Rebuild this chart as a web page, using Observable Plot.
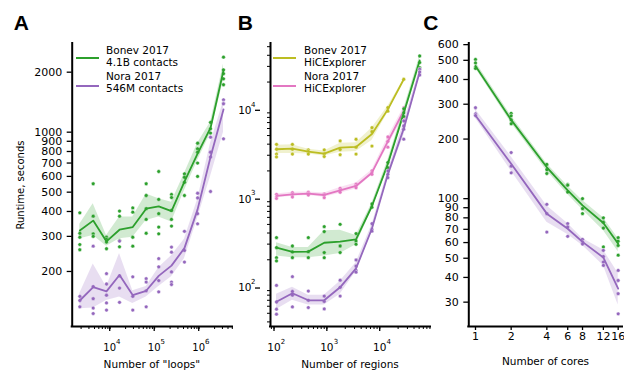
<!DOCTYPE html>
<html><head><meta charset="utf-8">
<script src="https://cdn.jsdelivr.net/npm/d3@7"></script>
<script src="https://cdn.jsdelivr.net/npm/@observablehq/plot@0.6"></script>
<style>
body{margin:0;background:#fff;}
#fig{position:relative;width:624px;height:370px;font-family:"DejaVu Sans",sans-serif;overflow:hidden;background:#fff;color:#000;}
.panel{position:absolute;top:0;}
.letter{position:absolute;font-family:"Liberation Sans",Arial,sans-serif;font-weight:bold;font-size:21px;line-height:21px;white-space:nowrap;}
.lab{position:absolute;font-size:10.5px;line-height:10.5px;white-space:nowrap;}
.leg{position:absolute;font-size:10.5px;line-height:11.7px;white-space:nowrap;}
.sw{position:absolute;height:2px;width:23px;}
</style></head><body><div id="fig"></div>
<script>
// ---------- Panel A: runtime vs number of "loops" ----------
const loops = [1870, 3740, 7450, 14600, 29000, 58000, 111000, 215000, 420000, 830000, 1620000, 3170000];
const aBonevMean = [321, 360, 283, 324, 334, 413, 424, 402, 565, 780, 1050, 2040];
const aBonevLo   = [292, 303, 268, 292, 297, 360, 375, 354, 510, 720, 985, 1820];
const aBonevHi   = [345, 437, 303, 375, 375, 490, 463, 445, 620, 880, 1120, 2200];
const aBonevPts  = [[394,311,297,273,257],[551,379,309,300],[297,290,281,260],[402,379,286,266],[417,397,297,268],[551,481,413,365,311],[635,460,390,334,309],[487,470,405,365,338],[618,594,560,481],[881,825,794,700,600],[1120,1040,990],[2380,2055,1965,1853,1730]];
const aNoraMean = [143, 167, 159, 192, 152, 160, 190, 214, 262, 410, 750, 1300];
const aNoraLo   = [130, 131, 143, 149, 138, 149, 168, 188, 232, 370, 600, 1000];
const aNoraHi   = [155, 218, 167, 246, 160, 168, 209, 240, 290, 460, 880, 1430];
const aNoraPts  = [[150,143,133],[268,168,146,131,123],[195,173,152,139,128],[284,190,165,140],[188,150,128],[184,177,160,133],[232,211,180,158],[265,250,199,177,172],[318,255,223],[494,468,390,347],[944,794,750,504],[1454,1400,1388,926]];
const aYTicks  = [200,300,400,500,600,700,800,900,1000,2000];
const aXMajor  = [1e4, 1e5, 1e6];
const aXMinor  = [2e3,3e3,4e3,5e3,6e3,7e3,8e3,9e3,2e4,3e4,4e4,5e4,6e4,7e4,8e4,9e4,2e5,3e5,4e5,5e5,6e5,7e5,8e5,9e5,2e6,3e6,4e6,5e6];
const aLegend  = [["Bonev 2017","4.1B contacts"],["Nora 2017","546M contacts"]];

// ---------- Panel B: runtime vs number of regions ----------
const regions = [100, 200, 400, 800, 1600, 3200, 6400, 12800, 25600, 51200];
const bBonevMean = [274, 245, 247, 311, 320, 340, 806, 2400, 9000, 35000];
const bBonevLo   = [221, 211, 211, 220, 235, 295, 740, 2150, 7900, 30000];
const bBonevHi   = [311, 275, 275, 425, 430, 375, 870, 2650, 10000, 39000];
const bBonevPts  = [[355,274,211,194],[286,245,211],[355,247,211],[472,415,241,211],[501,286,241],[394,325,299],[850,780],[2480,2170],[10000,9000,8200],[39300,33100,29000]];
const bNoraMean = [67.5, 84, 70, 70, 98, 160, 450, 1830, 6000, 26000];
const bNoraLo   = [55, 70, 62, 62, 82, 148, 410, 1650, 5000, 24000];
const bNoraHi   = [82, 98, 80, 80, 115, 185, 500, 2000, 7000, 28000];
const bNoraPts  = [[103,67,55.6,48.8],[129,88,80,59],[89,70,58],[78,68,56],[118,98,78],[199,170,152,145],[510,440,420],[2000,1830,1680],[7300,6400,5900,4550],[27900,26000,24000]];
const bBonevHicMean = [3508, 3560, 3300, 3130, 3655, 3720, 5200, 9850, 21500];
const bBonevHicLo   = [3150, 3150, 3100, 2950, 3250, 3300, 4400, 9000, 21500];
const bBonevHicHi   = [3900, 3950, 3500, 3350, 4100, 4150, 6100, 10700, 21500];
const bBonevHicPts  = [[3980,3510,3090,2870],[3980,3510,3090],[3450,3300,3090],[3450,3100,2900],[4350,3480,3040],[4540,3700,3090],[6130,5530,3810],[10300,9400],[21500]];
const bNoraHicMean = [1045, 1090, 1110, 1072, 1210, 1355, 1910, 4300, 9500];
const bNoraHicLo   = [990, 1040, 1060, 1010, 1120, 1250, 1800, 3800, 8300];
const bNoraHicHi   = [1100, 1150, 1160, 1130, 1300, 1460, 2050, 4800, 10400];
const bNoraHicPts  = [[1090,1020,980],[1138,1080,1018],[1150,1100,1070],[1100,1070,1000],[1270,1200,1150],[1420,1350,1290],[2000,1900,1830],[4830,4300,3700],[10300,9300,8000]];
const bMajor  = [1e2, 1e3, 1e4];
const bXMinor = [80,90,200,300,400,500,600,700,800,900,2e3,3e3,4e3,5e3,6e3,7e3,8e3,9e3,2e4,3e4,4e4,5e4,6e4,7e4,8e4];
const bYMinor = [40,50,60,70,80,90,200,300,400,500,600,700,800,900,2e3,3e3,4e3,5e3,6e3,7e3,8e3,9e3,2e4,3e4,4e4,5e4];
const bLegend = [["Bonev 2017","HiCExplorer"],["Nora 2017","HiCExplorer"]];

// ---------- Panel C: runtime vs number of cores ----------
const cores = [1, 2, 4, 6, 8, 12, 16];
const cBonevMean = [468, 250, 144, 110, 92.5, 75.3, 59.2];
const cBonevLo   = [456, 241, 138, 105, 88, 69, 54];
const cBonevHi   = [490, 262, 150, 116, 98, 80, 63];
const cBonevPts  = [[505,485,462,455],[270,262,250,239],[149,140,134],[118,117,108],[100,89,84],[80,76,71,57],[63.5,61,58,51.8]];
const cNoraMean = [263, 150, 84, 70.5, 60.5, 50.4, 35.1];
const cNoraLo   = [255, 138, 76, 66, 58, 46, 29];
const cNoraHi   = [282, 163, 92, 75, 63, 55, 42];
const cNoraPts  = [[288,268,263],[171,146,135],[93.6,84,67.8],[74.8,71.9,64.5],[62.3,60.4,59],[54.8,51,47.8,46],[43.4,38.6,33.1,26.2]];
const cYTicks = [30,40,50,60,70,80,90,100,200,300,400,500,600];
const cXTicks = [1,2,4,6,8,12,16];

const labels = {yA: "Runtime, seconds", xA: 'Number of "loops"', xB: "Number of regions", xC: "Number of cores"};

// ---------- drawing ----------
const GREEN = "#2ca02c", PURPLE = "#9467bd", OLIVE = "#bcbd22", PINK = "#e377c2";
const fig = document.getElementById("fig");
const blank = () => "";

function series(xs, mean, lo, hi, pts, color) {
  const rows = mean.map((m, i) => ({x: xs[i], m, lo: lo[i], hi: hi[i]}));
  const prow = pts.flatMap((vals, i) => vals.map(v => ({x: xs[i], y: v})));
  return [
    Plot.dot(prow, {x: "x", y: "y", r: 1.9, fill: color, stroke: "white", strokeWidth: 0.5}),
    Plot.areaY(rows, {x: "x", y1: "lo", y2: "hi", fill: color, fillOpacity: 0.22}),
    Plot.line(rows, {x: "x", y: "m", stroke: color, strokeWidth: 1.8})
  ];
}
const expo = d => String(Math.round(Math.log10(d)));

function mount(svg, left) {
  svg.classList.add("panel");
  svg.style.left = left + "px";
  fig.appendChild(svg);
}

// Panel A
const aX = [1262, 5.05e6], aY = [105.9, 2786];
mount(Plot.plot({
  width: 240, height: 370, marginLeft: 71.7, marginRight: 8, marginTop: 43, marginBottom: 44,
  style: {fontFamily: "DejaVu Sans", overflow: "visible", background: "transparent"},
  x: {type: "log", domain: aX}, y: {type: "log", domain: aY},
  marks: [
    ...series(loops, aBonevMean, aBonevLo, aBonevHi, aBonevPts, GREEN),
    ...series(loops, aNoraMean, aNoraLo, aNoraHi, aNoraPts, PURPLE),
    Plot.axisY({ticks: aYTicks, tickFormat: blank, tickSize: 5, strokeWidth: 1.3, label: null}),
    Plot.text(aYTicks, {y: d => d, frameAnchor: "left", text: d => String(d), dx: -10, fontSize: 11, textAnchor: "end"}),
    Plot.axisX({ticks: aXMinor, tickFormat: blank, tickSize: 3, strokeWidth: 1, label: null}),
    Plot.axisX({ticks: aXMajor, tickFormat: () => "10", tickSize: 5, tickPadding: 12, fontSize: 10, dx: -2.5, strokeWidth: 1.3, label: null}),
    Plot.text(aXMajor, {x: d => d, frameAnchor: "bottom", text: expo, dy: 12.5, dx: 3.8, fontSize: 7, textAnchor: "start", lineAnchor: "top"}),
    Plot.ruleX([aX[0]], {stroke: "black", strokeWidth: 2, strokeLinecap: "square"}),
    Plot.ruleY([aY[0]], {stroke: "black", strokeWidth: 2, strokeLinecap: "square"})
  ]
}), 0);

// Panel B
const bX = [77, 82000], bY = [35.5, 54300];
mount(Plot.plot({
  width: 192, height: 370, marginLeft: 30, marginRight: 2, marginTop: 43, marginBottom: 44,
  style: {fontFamily: "DejaVu Sans", overflow: "visible", background: "transparent"},
  x: {type: "log", domain: bX}, y: {type: "log", domain: bY},
  marks: [
    ...series(regions, bBonevHicMean, bBonevHicLo, bBonevHicHi, bBonevHicPts, OLIVE),
    ...series(regions, bNoraHicMean, bNoraHicLo, bNoraHicHi, bNoraHicPts, PINK),
    ...series(regions, bBonevMean, bBonevLo, bBonevHi, bBonevPts, GREEN),
    ...series(regions, bNoraMean, bNoraLo, bNoraHi, bNoraPts, PURPLE),
    Plot.axisY({ticks: bYMinor, tickFormat: blank, tickSize: 3, strokeWidth: 1, label: null}),
    Plot.axisY({ticks: bMajor, tickFormat: () => "10", tickSize: 5, tickPadding: 4, fontSize: 10.5, dx: -10, dy: 1.5, strokeWidth: 1.3, label: null}),
    Plot.text(bMajor, {y: d => d, frameAnchor: "left", text: expo, dx: -19.5, dy: -4.5, fontSize: 7, textAnchor: "start"}),
    Plot.axisX({ticks: bXMinor, tickFormat: blank, tickSize: 3, strokeWidth: 1, label: null}),
    Plot.axisX({ticks: bMajor, tickFormat: () => "10", tickSize: 5, tickPadding: 12, fontSize: 10.5, dx: -2.5, strokeWidth: 1.3, label: null}),
    Plot.text(bMajor, {x: d => d, frameAnchor: "bottom", text: expo, dy: 12.5, dx: 4.3, fontSize: 7, textAnchor: "start", lineAnchor: "top"}),
    Plot.ruleX([bX[0]], {stroke: "black", strokeWidth: 2, strokeLinecap: "square"}),
    Plot.ruleY([bY[0]], {stroke: "black", strokeWidth: 2, strokeLinecap: "square"})
  ]
}), 240);

// Panel C
const cX = [0.878, 17.4], cY = [22.6, 608];
mount(Plot.plot({
  width: 192, height: 370, marginLeft: 36.3, marginRight: 2, marginTop: 43, marginBottom: 44,
  style: {fontFamily: "DejaVu Sans", overflow: "visible", background: "transparent"},
  x: {type: "log", domain: cX}, y: {type: "log", domain: cY},
  marks: [
    ...series(cores, cBonevMean, cBonevLo, cBonevHi, cBonevPts, GREEN),
    ...series(cores, cNoraMean, cNoraLo, cNoraHi, cNoraPts, PURPLE),
    Plot.axisY({ticks: cYTicks, tickFormat: blank, tickSize: 5, strokeWidth: 1.3, label: null}),
    Plot.text(cYTicks, {y: d => d, frameAnchor: "left", text: d => String(d), dx: -10, fontSize: 11, textAnchor: "end"}),
    Plot.axisX({ticks: cXTicks, tickFormat: blank, tickSize: 4, strokeWidth: 1.3, label: null}),
    Plot.text(cXTicks, {x: d => d, frameAnchor: "bottom", text: d => String(d), dy: 6, fontSize: 11, lineAnchor: "top"}),
    Plot.ruleX([cX[0]], {stroke: "black", strokeWidth: 2, strokeLinecap: "square"}),
    Plot.ruleY([cY[0]], {stroke: "black", strokeWidth: 2, strokeLinecap: "square"})
  ]
}), 432);

// ---------- HTML text: panel letters, axis labels, legends ----------
function div(cls, text, css) {
  const d = document.createElement("div");
  d.className = cls; d.textContent = text;
  Object.assign(d.style, css);
  fig.appendChild(d);
  return d;
}
div("letter", "A", {left: "13.7px", top: "12.2px"});
div("letter", "B", {left: "237.8px", top: "11.5px"});
div("letter", "C", {left: "423.3px", top: "11.5px"});

div("lab", labels.xA, {left: "151.9px", top: (368 - 8.9) + "px", transform: "translateX(-50%)"});
div("lab", labels.xB, {left: "350px", top: (368 - 8.9) + "px", transform: "translateX(-50%)"});
div("lab", labels.xC, {left: "545.5px", top: (364.5 - 8.9) + "px", transform: "translateX(-50%)"});
div("lab", labels.yA, {left: "20.5px", top: "185px", fontSize: "10px", lineHeight: "10px", transform: "translate(-50%,-50%) rotate(-90deg)"});

function legend(entries, colors, swLeft, textLeft) {
  entries.forEach((lines, i) => {
    const top = 45.2 + i * 26;
    const sw = document.createElement("div");
    sw.className = "sw";
    Object.assign(sw.style, {left: swLeft + "px", top: (57 + i * 28) + "px", background: colors[i]});
    fig.appendChild(sw);
    const t = div("leg", "", {left: textLeft + "px", top: top + "px"});
    lines.forEach((s, j) => { if (j) t.appendChild(document.createElement("br")); t.appendChild(document.createTextNode(s)); });
  });
}
legend(aLegend, [GREEN, PURPLE], 76, 106);
legend(bLegend, [OLIVE, PINK], 273, 304);
</script></body></html>
